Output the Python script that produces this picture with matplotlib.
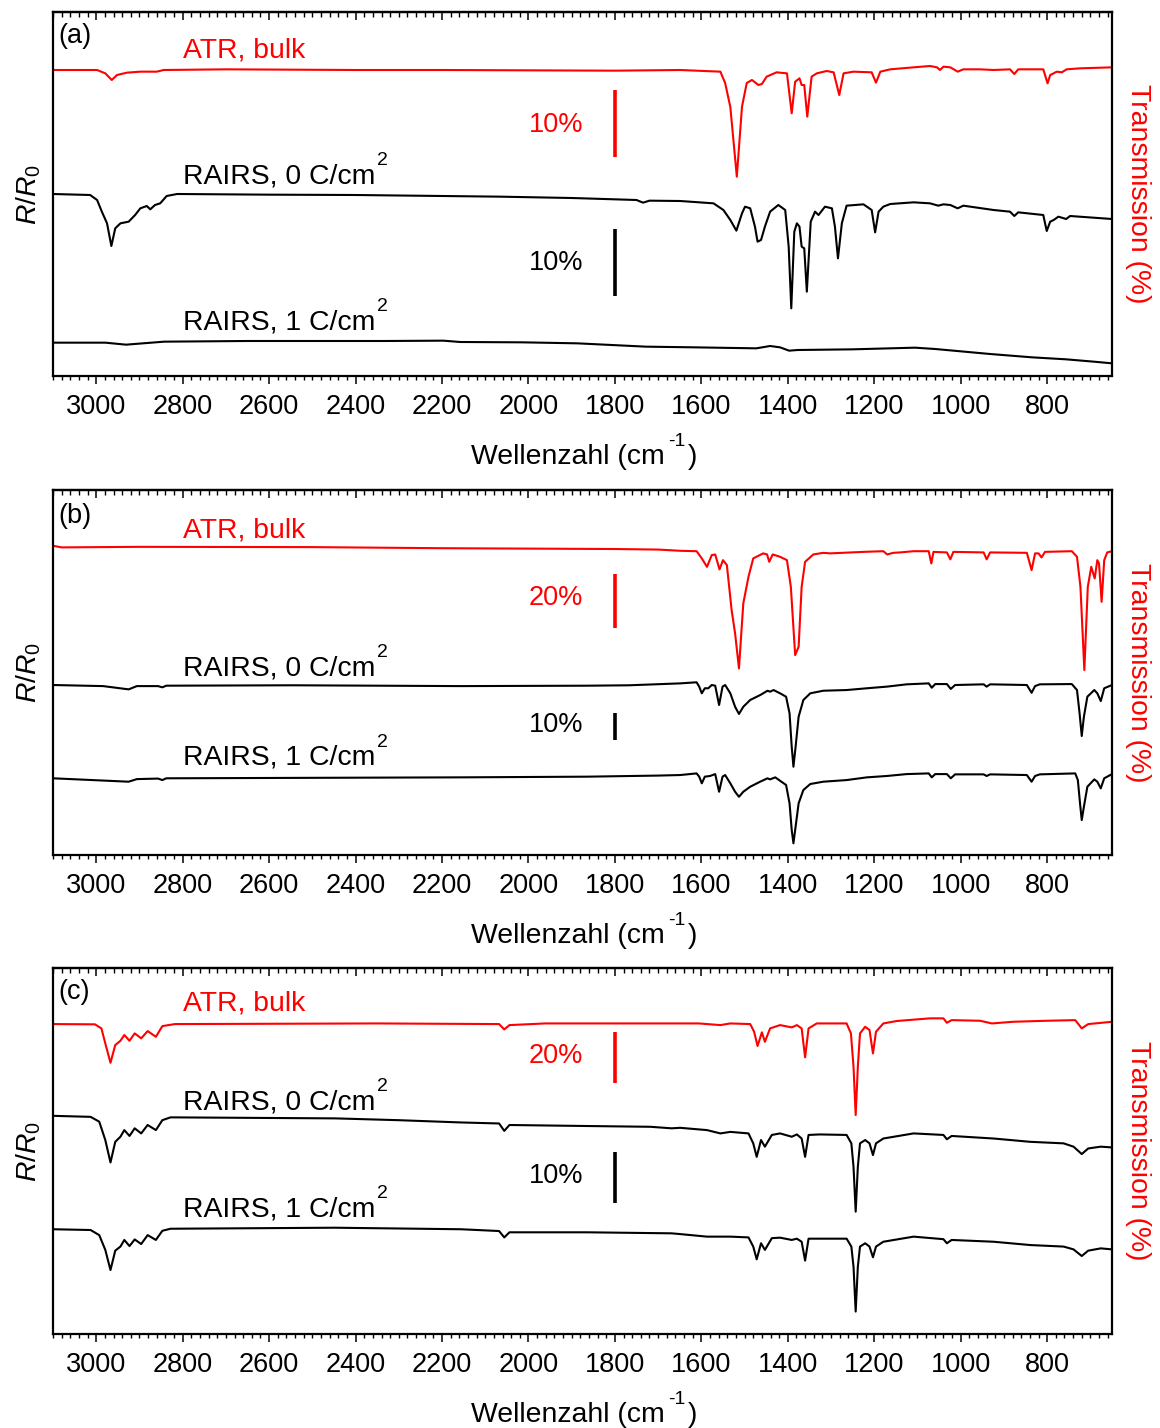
import matplotlib
matplotlib.use('Agg')
import matplotlib.pyplot as plt
from matplotlib.ticker import MultipleLocator, NullLocator

plt.rcParams['font.family'] = ['Liberation Sans', 'DejaVu Sans']
plt.rcParams['mathtext.fontset'] = 'custom'
plt.rcParams['mathtext.rm'] = 'Liberation Sans'
plt.rcParams['mathtext.it'] = 'Liberation Sans:italic'
plt.rcParams['mathtext.bf'] = 'Liberation Sans:bold'

# ---------------- data (wavenumber in cm^-1, values in %) ----------------
# panel (a)
a_atr_wn = [3100, 2998, 2979, 2964, 2952, 2929, 2898, 2860, 2844, 2700, 2400, 2200, 1800, 1649, 1556, 1545, 1533, 1518, 1506, 1495,
            1483, 1468, 1460, 1449, 1426, 1402, 1391, 1383, 1373, 1368, 1362, 1355, 1345, 1333, 1310, 1294, 1281, 1271, 1248, 1206,
            1196, 1186, 1163, 1109, 1071, 1055, 1048, 1040, 1024, 1007, 994, 955, 924, 886, 876, 867, 809, 799, 793, 785,
            778, 766, 755, 724, 650]
a_atr_T = [100.0, 100.0, 99.5, 98.5, 99.25, 99.6, 99.75, 99.75, 100.0, 100.1, 100.0, 100.0, 99.9, 100.0, 99.75, 98.05, 94.45, 84.0, 94.5, 98.05,
           98.5, 97.75, 97.9, 99.0, 99.65, 99.5, 93.5, 98.25, 98.75, 97.75, 97.75, 93.0, 99.0, 99.5, 99.85, 99.65, 96.25, 99.5, 99.75, 99.65,
           98.1, 99.75, 100.1, 100.4, 100.6, 100.4, 100.0, 100.5, 100.4, 99.75, 100.1, 100.1, 100.0, 100.1, 99.4, 100.1, 100.1, 98.0, 99.25, 99.5,
           99.75, 99.65, 100.1, 100.25, 100.4]
a_r0_wn = [3100, 3014, 2998, 2987, 2975, 2965, 2956, 2944, 2925, 2910, 2898, 2883, 2875, 2864, 2852, 2837, 2813, 2600, 2400, 2200,
           2065, 1900, 1750, 1735, 1720, 1649, 1572, 1549, 1533, 1519, 1506, 1499, 1487, 1476, 1470, 1462, 1453, 1441, 1422, 1406,
           1398, 1392, 1385, 1379, 1373, 1368, 1362, 1356, 1347, 1337, 1329, 1314, 1298, 1291, 1284, 1275, 1264, 1225, 1206, 1198,
           1190, 1179, 1163, 1109, 1071, 1052, 1040, 1024, 1007, 994, 924, 886, 876, 867, 809, 801, 793, 785, 774, 756,
           747, 650]
a_r0_R = [100.0, 99.85, 99.1, 97.35, 95.6, 92.2, 94.85, 95.6, 95.85, 96.85, 97.85, 98.2, 97.7, 98.35, 98.6, 99.7, 100.0, 99.9, 99.85, 99.7,
          99.6, 99.4, 99.1, 98.7, 99.0, 98.95, 98.6, 97.6, 96.1, 94.5, 97.1, 98.1, 97.85, 95.1, 92.85, 93.1, 95.1, 97.35, 98.35, 97.6,
          92.1, 82.85, 94.35, 95.6, 95.1, 92.1, 91.85, 85.35, 95.85, 97.35, 96.85, 98.1, 97.85, 95.1, 90.35, 95.6, 98.25, 98.45, 97.6, 94.25,
          97.35, 98.1, 98.5, 98.75, 98.6, 98.25, 98.45, 98.35, 97.85, 98.25, 97.6, 97.35, 96.7, 97.25, 96.85, 94.45, 95.85, 96.1, 96.6, 96.25,
          96.7, 96.25]
a_r1_wn = [3100, 2979, 2931, 2843, 2652, 2334, 2197, 2158, 2014, 1887, 1728, 1617, 1473, 1441, 1418, 1397, 1377, 1250, 1106, 1059,
           932, 835, 756, 692, 650]
a_r1_R = [99.9, 99.9, 99.6, 100.05, 100.15, 100.15, 100.2, 100.0, 99.95, 99.8, 99.3, 99.2, 99.05, 99.4, 99.2, 98.7, 98.8, 98.9, 99.15, 98.95,
          98.2, 97.7, 97.4, 97.05, 96.8]

# panel (b)
b_atr_wn = [3100, 3080, 2900, 2500, 2200, 1800, 1700, 1649, 1611, 1599, 1587, 1576, 1568, 1558, 1550, 1541, 1530, 1522, 1513, 1503,
            1491, 1480, 1457, 1448, 1443, 1435, 1418, 1402, 1393, 1383, 1375, 1368, 1360, 1341, 1318, 1302, 1225, 1179, 1170, 1156,
            1140, 1109, 1074, 1068, 1063, 1032, 1024, 1017, 947, 940, 932, 847, 836, 828, 820, 813, 805, 743, 731, 723,
            714, 706, 698, 690, 684, 680, 674, 668, 661, 650]
b_atr_T = [100.5, 99.9, 100.1, 100.0, 99.6, 99.3, 99.1, 98.65, 98.5, 95.85, 92.75, 97.05, 97.3, 91.8, 95.2, 93.4, 76.85, 68.3, 55.4, 79.3,
           89.1, 95.85, 97.7, 97.3, 94.6, 97.3, 96.45, 95.2, 85.4, 60.3, 63.35, 85.4, 94.6, 97.3, 97.9, 97.7, 98.25, 98.5, 97.3, 97.9,
           98.05, 98.5, 98.5, 94.0, 98.25, 98.05, 95.5, 98.25, 98.05, 95.5, 98.05, 97.9, 91.55, 97.7, 97.7, 96.2, 98.25, 98.5, 96.45, 85.4,
           54.8, 85.4, 92.75, 88.5, 95.2, 94.0, 79.9, 95.2, 98.05, 98.5]
b_r0_wn = [3100, 2984, 2925, 2906, 2857, 2847, 2838, 2545, 2156, 1864, 1767, 1649, 1611, 1605, 1599, 1592, 1584, 1576, 1568, 1559,
           1551, 1545, 1533, 1522, 1513, 1503, 1487, 1464, 1447, 1441, 1433, 1418, 1404, 1396, 1391, 1387, 1382, 1375, 1364, 1348,
           1318, 1264, 1217, 1171, 1125, 1074, 1067, 1059, 1032, 1023, 1013, 947, 940, 932, 847, 836, 828, 817, 743, 731,
           725, 720, 715, 707, 691, 684, 676, 668, 650]
b_r0_R = [100.0, 99.6, 98.4, 99.6, 99.6, 99.15, 99.75, 99.9, 99.6, 99.75, 99.9, 100.6, 101.0, 99.4, 96.95, 98.8, 98.8, 100.0, 99.75, 92.65,
          99.4, 100.0, 96.95, 92.0, 89.35, 92.0, 94.5, 96.3, 97.9, 97.55, 98.15, 96.95, 95.7, 89.6, 77.3, 69.95, 77.3, 88.35, 94.5, 96.95,
          97.9, 98.15, 98.8, 99.4, 100.25, 100.6, 99.0, 100.35, 100.35, 98.55, 100.0, 100.25, 99.4, 100.25, 100.0, 97.15, 99.6, 100.25, 100.35, 98.15,
          89.6, 81.25, 88.35, 95.7, 98.15, 96.95, 94.1, 98.8, 100.0]
b_r1_wn = [3100, 2925, 2906, 2857, 2847, 2838, 2156, 1864, 1700, 1649, 1611, 1605, 1599, 1592, 1580, 1568, 1559, 1551, 1545, 1533,
           1522, 1513, 1503, 1487, 1464, 1447, 1441, 1429, 1418, 1404, 1396, 1391, 1387, 1382, 1375, 1364, 1348, 1318, 1264, 1217,
           1171, 1125, 1074, 1067, 1059, 1032, 1023, 1013, 947, 940, 932, 847, 836, 828, 817, 735, 729, 724, 720, 715,
           707, 691, 684, 676, 668, 650]
b_r1_R = [99.9, 98.65, 99.6, 99.8, 99.25, 99.9, 100.25, 100.5, 100.9, 101.1, 101.7, 100.5, 98.05, 100.5, 100.75, 101.45, 94.95, 100.5, 101.1, 98.05,
          94.95, 93.1, 94.95, 96.8, 98.65, 99.9, 99.5, 100.25, 99.0, 97.45, 90.7, 80.9, 76.0, 82.1, 90.7, 95.6, 97.8, 98.65, 99.25, 100.25,
          100.75, 101.45, 101.7, 100.25, 101.45, 101.45, 99.9, 101.35, 101.35, 100.75, 101.35, 101.1, 98.65, 100.75, 101.35, 101.7, 99.25, 90.7, 84.55, 89.45,
          96.8, 99.5, 98.65, 96.2, 99.9, 101.45]

# panel (c)
c_atr_wn = [3100, 3003, 2988, 2979, 2967, 2956, 2944, 2935, 2923, 2911, 2896, 2881, 2862, 2847, 2818, 2351, 2068, 2056, 2044, 1961,
            1606, 1556, 1533, 1487, 1478, 1470, 1460, 1453, 1441, 1418, 1391, 1379, 1368, 1360, 1352, 1333, 1264, 1254, 1248, 1243,
            1238, 1233, 1221, 1211, 1203, 1196, 1179, 1148, 1071, 1040, 1032, 1021, 955, 928, 879, 801, 735, 720, 705, 650]
c_atr_T = [100.0, 99.9, 98.3, 92.4, 84.8, 91.75, 93.45, 95.7, 93.45, 96.35, 94.4, 97.25, 95.0, 99.2, 100.0, 100.25, 100.0, 97.9, 99.6, 100.25,
           100.25, 99.6, 100.25, 100.0, 97.0, 91.4, 96.75, 93.05, 98.3, 99.6, 98.7, 99.6, 98.3, 86.95, 98.3, 100.25, 100.25, 96.35, 83.25, 64.3,
           83.25, 96.35, 98.95, 97.65, 88.5, 97.0, 100.25, 101.2, 102.25, 102.25, 100.5, 101.55, 101.3, 100.25, 100.9, 101.3, 101.55, 98.3, 100.0, 100.9]
c_r0_wn = [3100, 3013, 2993, 2979, 2967, 2956, 2944, 2935, 2923, 2911, 2896, 2881, 2862, 2847, 2828, 2448, 2302, 2156, 2068, 2056,
           2044, 1864, 1718, 1669, 1649, 1587, 1556, 1533, 1491, 1480, 1472, 1462, 1453, 1437, 1418, 1391, 1379, 1368, 1360, 1352,
           1326, 1264, 1253, 1248, 1243, 1238, 1233, 1221, 1211, 1203, 1196, 1179, 1109, 1040, 1032, 1021, 924, 839, 762, 739,
           720, 705, 676, 650]
c_r0_R = [100.05, 99.85, 98.9, 95.3, 90.9, 94.95, 95.95, 97.25, 96.1, 97.6, 96.6, 98.25, 97.25, 99.2, 99.75, 99.55, 99.2, 98.75, 98.55, 97.1,
          98.25, 98.05, 97.9, 97.6, 97.7, 97.25, 96.6, 96.9, 96.6, 94.65, 92.0, 95.3, 94.0, 96.3, 96.6, 95.95, 96.4, 95.6, 92.0, 96.3,
          96.4, 96.3, 94.65, 90.05, 81.25, 90.05, 94.65, 95.3, 94.65, 92.35, 94.65, 95.6, 96.6, 96.3, 95.45, 96.1, 95.6, 94.95, 94.65, 94.0,
          92.55, 93.65, 94.0, 93.85]
c_r1_wn = [3100, 3013, 2993, 2979, 2967, 2956, 2944, 2935, 2923, 2911, 2896, 2881, 2862, 2847, 2828, 2448, 2156, 2068, 2056, 2044,
           1864, 1669, 1649, 1587, 1533, 1491, 1480, 1472, 1462, 1453, 1437, 1418, 1391, 1379, 1368, 1360, 1352, 1264, 1253, 1248,
           1243, 1238, 1233, 1221, 1211, 1203, 1196, 1179, 1109, 1040, 1032, 1021, 924, 839, 762, 739, 720, 705, 676, 650]
c_r1_R = [99.95, 99.8, 98.8, 95.9, 91.95, 95.75, 96.55, 97.85, 96.65, 97.95, 97.05, 98.8, 97.85, 99.65, 100.05, 100.25, 99.95, 99.6, 98.35, 99.35,
          99.35, 99.15, 99.0, 98.5, 98.5, 98.35, 96.55, 94.05, 97.2, 95.9, 98.2, 98.3, 97.85, 98.1, 97.5, 93.8, 98.1, 98.1, 96.55, 92.6,
          83.8, 92.6, 96.55, 97.2, 96.55, 94.45, 96.55, 97.5, 98.5, 98.0, 97.2, 97.85, 97.5, 96.85, 96.55, 96.0, 94.7, 95.75, 96.2, 96.0]

panel_labels = ['(a)', '(b)', '(c)']
curve_labels = ['ATR, bulk', 'RAIRS, 0 C/cm', 'RAIRS, 1 C/cm']
atr_bar_pct = [10, 20, 20]
rairs_bar_pct = [10, 10, 10]
x_ticks = [3000, 2800, 2600, 2400, 2200, 2000, 1800, 1600, 1400, 1200, 1000, 800]

# ---------------- style / layout ----------------
RED = '#ff0000'
FS = 19.5        # tick labels, percent labels
FS_LAB = 20.4    # curve labels, axis labels
SUP_FS = 14
W, H = 1160, 1428
LEFT_PX, RIGHT_PX = 53, 1112
panel_px = [(12, 376), (490, 855), (968, 1334)]           # top, bottom in pixels
ylims = [54.6, 134.2, 71.8]                                 # y-range of each panel (in % units)
atr_scale = [1.0, 1.0, 0.5]                                 # display scale of ATR curve
offsets = [(45.9, 27.3, 5.1), (113.2, 62.5, 28.3), (60.8, 42.75, 20.6)]
atr_bar_bottom = [32.9, 83.3, 49.3]
rairs_bar_bottom = [12.0, 42.3, 25.7]
# text baselines (axes fraction)
txt_y = [
    dict(lab=0.915, atr=0.876, r0=0.530, r1=0.128, pa=0.671, pr=0.291),
    dict(lab=0.910, atr=0.871, r0=0.493, r1=0.247, pa=0.685, pr=0.338),
    dict(lab=0.915, atr=0.883, r0=0.614, r1=0.322, pa=0.741, pr=0.413),
]

data = [
    (a_atr_wn, a_atr_T, a_r0_wn, a_r0_R, a_r1_wn, a_r1_R),
    (b_atr_wn, b_atr_T, b_r0_wn, b_r0_R, b_r1_wn, b_r1_R),
    (c_atr_wn, c_atr_T, c_r0_wn, c_r0_R, c_r1_wn, c_r1_R),
]

fig = plt.figure(figsize=(W / 100, H / 100), dpi=100)
fig.patch.set_facecolor('white')


def sup_text(ax, x, y, main, sup, color):
    t = ax.text(x, y, main, transform=ax.transAxes, ha='left', va='baseline',
                fontsize=FS_LAB, color=color)
    ax.annotate(sup, xy=(1, 1), xycoords=t, xytext=(0.8, -1.5),
                textcoords='offset points', ha='left', va='baseline',
                fontsize=SUP_FS, color=color)
    return t


for i in range(3):
    top, bot = panel_px[i]
    ax = fig.add_axes([LEFT_PX / W, 1 - bot / H, (RIGHT_PX - LEFT_PX) / W, (bot - top) / H])
    atr_wn, atr_T, r0_wn, r0_R, r1_wn, r1_R = data[i]
    oa, o0, o1 = offsets[i]
    s = atr_scale[i]
    ax.plot(atr_wn, [oa + (v - 100) * s for v in atr_T], color=RED, lw=1.5, solid_joinstyle='round')
    ax.plot(r0_wn, [o0 + (v - 100) for v in r0_R], color='black', lw=1.5, solid_joinstyle='round')
    ax.plot(r1_wn, [o1 + (v - 100) for v in r1_R], color='black', lw=1.5, solid_joinstyle='round')

    ax.set_xlim(3100, 650)
    ax.set_ylim(0, ylims[i])

    # scale bars at 1800 cm^-1
    ax.plot([1800, 1800], [atr_bar_bottom[i], atr_bar_bottom[i] + atr_bar_pct[i] * s],
            color=RED, lw=2.6, solid_capstyle='butt')
    ax.plot([1800, 1800], [rairs_bar_bottom[i], rairs_bar_bottom[i] + rairs_bar_pct[i]],
            color='black', lw=2.6, solid_capstyle='butt')

    ty = txt_y[i]
    xb = ax.get_xaxis_transform()
    ax.text(1873, ty['pa'], f'{atr_bar_pct[i]}%', transform=xb, ha='right', va='baseline',
            fontsize=FS, color=RED)
    ax.text(1873, ty['pr'], f'{rairs_bar_pct[i]}%', transform=xb, ha='right', va='baseline',
            fontsize=FS, color='black')

    ax.text(0.005, ty['lab'], panel_labels[i], transform=ax.transAxes, ha='left', va='baseline',
            fontsize=FS)
    ax.text(0.1228, ty['atr'], curve_labels[0], transform=ax.transAxes, ha='left', va='baseline',
            fontsize=FS_LAB, color=RED)
    sup_text(ax, 0.1228, ty['r0'], curve_labels[1], '2', 'black')
    sup_text(ax, 0.1228, ty['r1'], curve_labels[2], '2', 'black')

    # axes styling
    for sp in ax.spines.values():
        sp.set_linewidth(1.6)
    ax.yaxis.set_major_locator(NullLocator())
    ax.set_xticks(x_ticks)
    ax.xaxis.set_minor_locator(MultipleLocator(20))
    ax.tick_params(axis='x', which='major', direction='out', length=6, width=1.1,
                   labelsize=FS, pad=7)
    ax.tick_params(axis='x', which='minor', direction='out', length=3, width=1.0)
    sec = ax.secondary_xaxis('top')
    sec.set_xticks(x_ticks)
    sec.xaxis.set_minor_locator(MultipleLocator(20))
    sec.tick_params(axis='x', which='major', direction='in', length=6, width=1.1, labeltop=False)
    sec.tick_params(axis='x', which='minor', direction='in', length=3.6, width=1.0)
    sec.spines['top'].set_linewidth(1.6)

    # y labels
    ax.text(-0.0227, 0.5, r'$R$/$R_0$', transform=ax.transAxes, rotation=90,
            ha='center', va='center', fontsize=FS_LAB)
    ax.text(1.025, 0.5, 'Transmission (%)', transform=ax.transAxes, rotation=270,
            ha='center', va='center', fontsize=FS_LAB, color=RED)

    # x label with superscript
    t1 = ax.text(0.3947, -0.241, 'Wellenzahl (cm', transform=ax.transAxes, ha='left',
                 va='baseline', fontsize=FS_LAB)
    t2 = ax.annotate('-1', xy=(1, 1), xycoords=t1, xytext=(2.5, -1.5), textcoords='offset points',
                     ha='left', va='baseline', fontsize=SUP_FS)
    ax.annotate(')', xy=(1, 0), xycoords=(t2, t1), xytext=(1.5, 0), textcoords='offset points',
                ha='left', va='bottom', fontsize=FS_LAB)

fig.savefig('out.png', dpi=100, facecolor='white')
